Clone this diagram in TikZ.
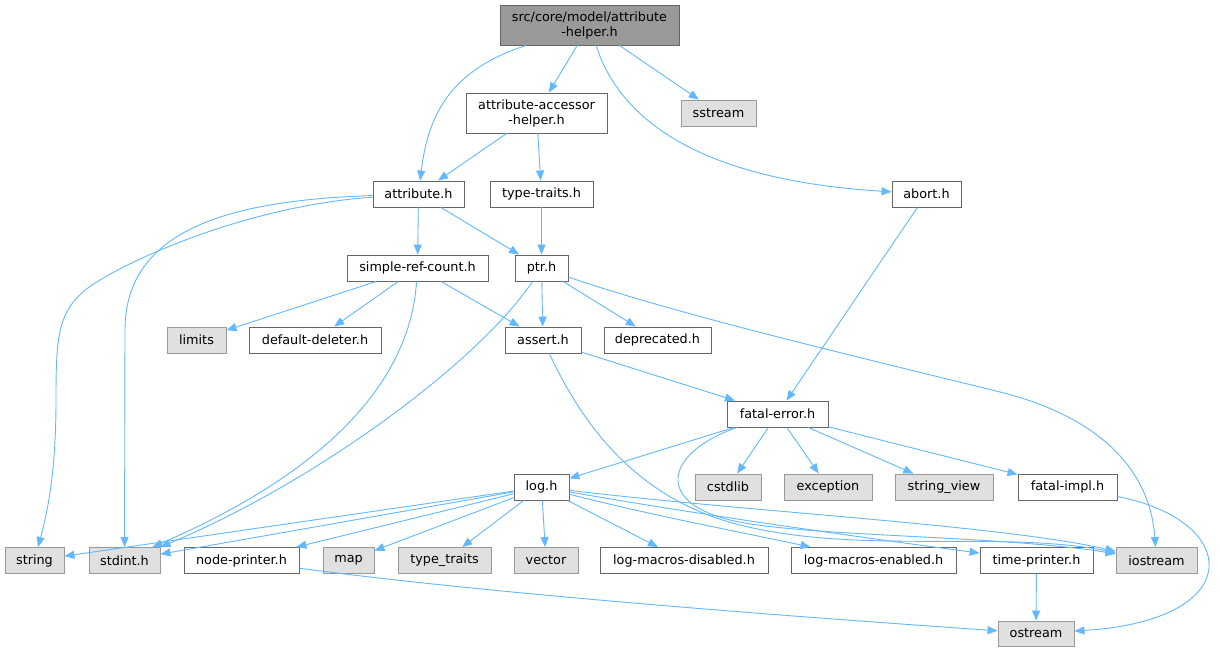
\documentclass[tikz,border=0pt]{standalone}
\usepackage{fontspec}
\setmainfont{DejaVu Sans}
\usetikzlibrary{arrows.meta,calc}
\definecolor{edgec}{HTML}{63B8FF}
\definecolor{docb}{HTML}{666666}
\definecolor{extb}{HTML}{999999}
\definecolor{extf}{HTML}{E0E0E0}
\definecolor{mainf}{HTML}{999999}
\begin{document}
\begin{tikzpicture}[x=1pt,y=-1pt,
  base/.style={rectangle,inner sep=0pt,minimum height=26pt,line width=0.9pt,
    font=\fontsize{12.8pt}{15pt}\selectfont,text=black},
  doc/.style={base,draw=docb,fill=white},
  ext/.style={base,draw=extb,fill=extf},
  mainnode/.style={base,draw=docb,fill=mainf,minimum height=40pt,align=center},
  e/.style={draw=edgec,line width=0.9pt,-{Triangle[length=10pt,width=8pt]}}]
\useasboundingbox[fill=white] (0,0) rectangle (1220,652);

% nodes
\node[mainnode,minimum width=179pt] (main) at (589.5,25) {src/core/model/attribute\\-helper.h};
\node[doc,minimum width=141pt,minimum height=40pt,align=center] (aah) at (536.5,113) {attribute-accessor\\-helper.h};
\node[ext,minimum width=75pt] (sstream) at (718.5,113) {sstream};
\node[doc,minimum width=91pt] (attribute) at (418.5,194) {attribute.h};
\node[doc,minimum width=103pt] (typetraits) at (541.5,194) {type-traits.h};
\node[doc,minimum width=69pt] (abort) at (926.5,194) {abort.h};
\node[doc,minimum width=141pt] (src) at (417.5,268) {simple-ref-count.h};
\node[doc,minimum width=53pt] (ptr) at (541.5,268) {ptr.h};
\node[ext,minimum width=59pt] (limits) at (196.5,340) {limits};
\node[doc,minimum width=132pt] (dd) at (315,340) {default-deleter.h};
\node[doc,minimum width=76pt] (assert) at (543,340) {assert.h};
\node[doc,minimum width=107pt] (deprecated) at (657.5,340) {deprecated.h};
\node[doc,minimum width=101pt] (fatalerror) at (777.5,414) {fatal-error.h};
\node[doc,minimum width=55pt] (logh) at (541.5,487) {log.h};
\node[ext,minimum width=66pt] (cstdlib) at (728,487) {cstdlib};
\node[ext,minimum width=88pt] (exception) at (828,487) {exception};
\node[ext,minimum width=98pt] (stringview) at (944,487) {string\_view};
\node[doc,minimum width=99pt] (fatalimpl) at (1067.5,487) {fatal-impl.h};
\node[ext,minimum width=59pt] (string) at (34.5,560.5) {string};
\node[ext,minimum width=71pt] (stdint) at (124.5,560.5) {stdint.h};
\node[doc,minimum width=115pt] (nodeprinter) at (241.5,560.5) {node-printer.h};
\node[ext,minimum width=51pt] (map) at (348.5,560.5) {map};
\node[ext,minimum width=93pt] (typetraitsstd) at (444.5,560.5) {type\_traits};
\node[ext,minimum width=64pt] (vector) at (546,560.5) {vector};
\node[doc,minimum width=168pt] (lmd) at (684,560.5) {log-macros-disabled.h};
\node[doc,minimum width=165pt] (lme) at (873.5,560.5) {log-macros-enabled.h};
\node[doc,minimum width=113pt] (timeprinter) at (1036.5,560.5) {time-printer.h};
\node[ext,minimum width=81pt] (iostream) at (1156.5,560.5) {iostream};
\node[ext,minimum width=76pt,minimum height=25pt] (ostream) at (1036,633.5) {ostream};

% edges from main
\draw[e] (main) .. controls (450,70) and (428,115) .. (attribute);
\draw[e] (main) -- (aah);
\draw[e] (main) -- (sstream);
\draw[e] (main) .. controls (620,120) and (700,180) .. (abort);
% attribute-accessor-helper
\draw[e] (aah) -- (attribute);
\draw[e] (aah) -- (typetraits);
% attribute
\draw[e] (attribute) -- (src);
\draw[e] (attribute) -- (ptr);
\draw[e] (attribute) .. controls (260,205) and (150,250) .. (100,280)
  .. controls (58,305) and (56,330) .. (56,400)
  .. controls (56,470) and (48,510) .. (string);
\draw[e] (attribute) .. controls (240,200) and (125,225) .. (125,330) -- (stdint);
% type-traits
\draw[e] (typetraits) -- (ptr);
% abort
\draw[e] (abort) -- (fatalerror);
% simple-ref-count
\draw[e] (src) -- (limits);
\draw[e] (src) -- (dd);
\draw[e] (src) -- (assert);
\draw[e] (src) .. controls (410,380) and (330,470) .. ($(stdint.north east)+(-8,0)$);
% ptr
\draw[e] (ptr) -- (assert);
\draw[e] (ptr) -- (deprecated);
\draw[e] (ptr) .. controls (480,360) and (320,480) .. (stdint.north east);
\draw[e] (ptr) .. controls (680,315) and (850,355) .. (1000,392)
  .. controls (1100,417) and (1150,470) .. (iostream);
% assert
\draw[e] (assert) -- (fatalerror);
\draw[e] (assert) .. controls (585,430) and (640,500) .. (740,525)
  .. controls (860,555) and (1000,530) .. (iostream);
% fatal-error
\draw[e] (fatalerror) -- (logh);
\draw[e] (fatalerror) -- (cstdlib);
\draw[e] (fatalerror) -- (exception);
\draw[e] (fatalerror) -- (stringview);
\draw[e] (fatalerror) -- (fatalimpl);
\draw[e] (fatalerror) .. controls (670,450) and (650,500) .. (730,520)
  .. controls (800,537) and (1000,535) .. (iostream);
% fatal-impl
\draw[e] (fatalimpl) .. controls (1240,520) and (1250,620) .. (ostream);
% log.h
\draw[e] (logh) -- (string);
\draw[e] (logh) -- (stdint);
\draw[e] (logh) -- (nodeprinter);
\draw[e] (logh) -- (map);
\draw[e] (logh) -- (typetraitsstd);
\draw[e] (logh) -- (vector);
\draw[e] (logh) -- (lmd);
\draw[e] (logh) .. controls (650,515) and (740,532) .. (lme);
\draw[e] (logh) .. controls (700,515) and (880,540) .. (timeprinter);
\draw[e] (logh) .. controls (750,512) and (1000,525) .. (iostream);
% node-printer, time-printer
\draw[e] (nodeprinter) .. controls (500,595) and (800,617) .. (ostream);
\draw[e] (timeprinter) -- (ostream);
\end{tikzpicture}
\end{document}
